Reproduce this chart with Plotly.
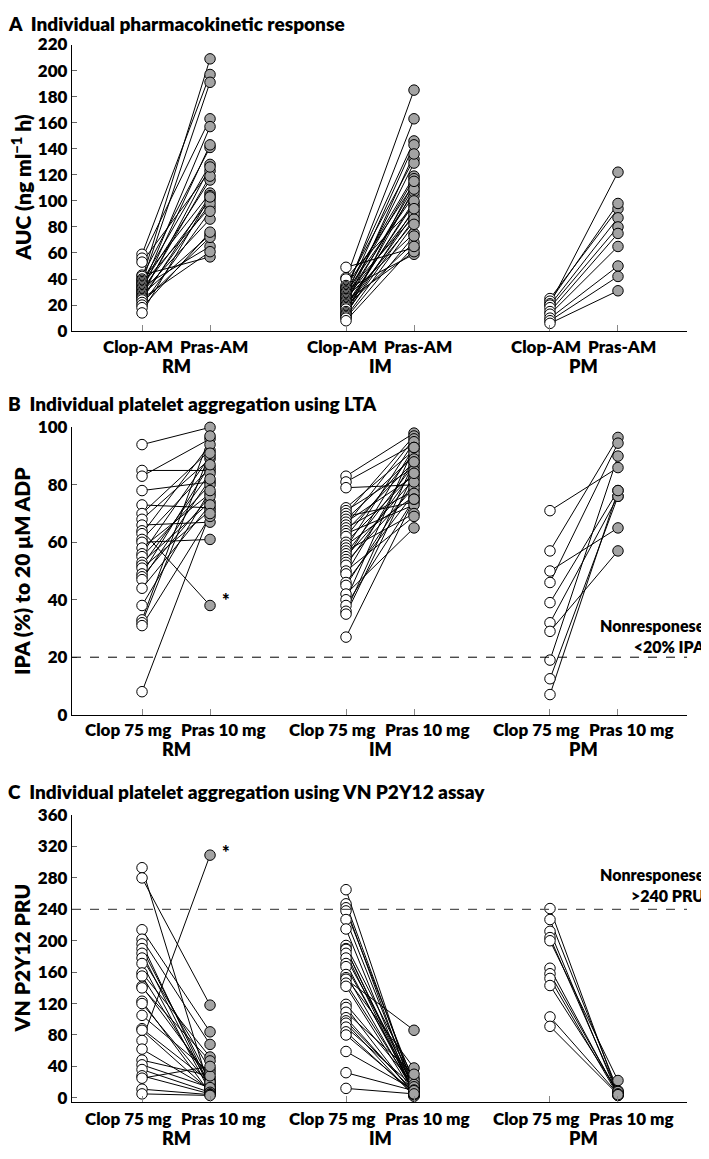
import plotly.graph_objects as go

# Page has an 8px body margin; the figure is sized so the page fits the 709x1159 window.
WIN_W, WIN_H, OFF = 709, 1159, 8
W, H = WIN_W - OFF, WIN_H - 2 * OFF

groups = ["RM", "IM", "PM"]
group_pos = [0, 3, 6]
A_ticks = ["Clop-AM", "Pras-AM"]
BC_ticks = ["Clop 75 mg", "Pras 10 mg"]

# ---------------- Panel A: AUC (ng ml-1 h) ----------------
A_RM_clop = [59, 56, 53, 43, 42, 40, 39, 38, 37, 36, 35, 34, 33, 32, 31, 30, 29, 28, 27, 26, 25, 24, 22, 20, 18, 14]
A_RM_pras = [197, 163, 123, 57, 141, 209, 106, 128, 191, 95, 116, 65, 157, 101, 143, 86, 119, 74, 126, 98, 61, 104, 72, 92, 76, 103]
A_IM_clop = [49, 41, 40, 35, 34, 33, 32, 31, 30, 30, 29, 28, 27, 26, 25, 25, 24, 23, 22, 21, 20, 20, 19, 18, 17, 15, 14, 13, 12, 11, 10, 8]
A_IM_pras = [64, 96, 185, 132, 113, 146, 59, 119, 104, 163, 88, 117, 143, 75, 107, 92, 129, 61, 111, 84, 98, 136, 68, 100, 90, 109, 86, 94, 115, 82, 73, 65]
A_PM_clop = [25, 23, 21, 20, 18, 15, 13, 10, 8, 6]
A_PM_pras = [94, 98, 122, 87, 80, 75, 65, 50, 42, 31]

# ---------------- Panel B: IPA (%) ----------------
B_RM_clop = [94, 85, 83, 78, 73, 70, 68, 66, 64, 63, 61, 60, 58, 56, 55, 53, 52, 51, 49, 48, 47, 44, 38, 33, 32, 31, 8]
B_RM_pras = [100, 85, 96, 81, 72, 92, 89, 67, 38, 94, 86, 61, 77, 90, 80, 74, 84, 71, 87, 76, 82, 73, 78, 97, 91, 69, 70]
B_IM_clop = [83, 81, 79, 72, 71, 70, 69, 68, 67, 66, 65, 64, 63, 62, 60, 59, 58, 57, 56, 55, 54, 53, 52, 50, 49, 46, 45, 42, 40, 38, 36, 35, 27]
B_IM_pras = [98, 94, 80, 92, 86, 97, 74, 90, 83, 96, 78, 88, 73, 91, 84, 76, 95, 70, 87, 82, 93, 79, 85, 69, 89, 77, 81, 65, 93, 75, 88, 84, 75]
B_PM_clop = [71, 57, 50, 46, 39, 32, 29, 19, 12.5, 7]
B_PM_pras = [86, 96.5, 65, 94.5, 78, 76, 57, 90, 76, 78]

# ---------------- Panel C: VN P2Y12 PRU ----------------
C_RM_clop = [293, 280, 214, 202, 196, 190, 184, 178, 171, 159, 155, 142, 140, 123, 120, 105, 88, 86, 73, 62, 48, 42, 36, 28, 25, 11, 5]
C_RM_pras = [10, 118, 84, 68, 14, 22, 12, 36, 8, 52, 18, 25, 47, 6, 16, 32, 20, 9, 309, 11, 28, 13, 7, 5, 40, 4, 3]
C_IM_clop = [265, 247, 242, 238, 227, 215, 194, 190, 189, 184, 178, 171, 167, 157, 153, 151, 146, 142, 119, 115, 109, 102, 98, 95, 90, 84, 80, 59, 32, 12]
C_IM_pras = [8, 13, 5, 19, 10, 3, 25, 6, 12, 4, 22, 9, 15, 7, 38, 86, 11, 5, 17, 3, 30, 6, 8, 2, 14, 4, 7, 10, 9, 5]
C_PM_clop = [241, 227, 212, 204, 200, 165, 158, 152, 143, 103, 91]
C_PM_pras = [5, 9, 3, 7, 22, 4, 6, 3, 8, 5, 4]

A_yticks = list(range(0, 221, 20))
B_yticks = list(range(0, 101, 20))
C_yticks = list(range(0, 361, 40))

FONT = "Lato"
WT = 800
GREY = "#a3a3a3"


def px(xp):
    return (xp - OFF) / W


def py(yp):
    return 1 - (yp - OFF) / H


panels = [
    dict(clop=[A_RM_clop, A_IM_clop, A_PM_clop], pras=[A_RM_pras, A_IM_pras, A_PM_pras],
         ticks=A_ticks, lab_off=0.06, yticks=A_yticks, yrange=[0, 220], top=34, bottom=326,
         lab_y=342, grp_y=361,
         title="A  Individual pharmacokinetic response", title_y=13,
         ytitle="AUC (ng ml<sup>\u22121</sup> h)"),
    dict(clop=[B_RM_clop, B_IM_clop, B_PM_clop], pras=[B_RM_pras, B_IM_pras, B_PM_pras],
         ticks=BC_ticks, lab_off=0.2, yticks=B_yticks, yrange=[0, 100], top=424, bottom=716.7,
         lab_y=732, grp_y=752,
         title="B  Individual platelet aggregation using LTA", title_y=400,
         ytitle="IPA (%) to 20 \u03bcM ADP"),
    dict(clop=[C_RM_clop, C_IM_clop, C_PM_clop], pras=[C_RM_pras, C_IM_pras, C_PM_pras],
         ticks=BC_ticks, lab_off=0.2, yticks=C_yticks, yrange=[-5, 360], top=819, bottom=1111,
         lab_y=1128, grp_y=1148,
         title="C  Individual platelet aggregation using VN P2Y12 assay", title_y=795,
         ytitle="VN P2Y12 PRU"),
]

x_left, x_right = 72, 687
x_range = [-1.03, 8.015]

fig = go.Figure()
layout = dict(width=W, height=H, margin=dict(l=0, r=0, t=0, b=0),
              plot_bgcolor="white", paper_bgcolor="white", showlegend=False,
              font=dict(family=FONT, color="black"))
annotations = []
shapes = []

for i, p in enumerate(panels):
    n = "" if i == 0 else str(i + 1)
    xa, ya = "x" + n, "y" + n
    lx, ly, wx, wy, gx, gy = [], [], [], [], [], []
    tickvals = []
    for g, gp in enumerate(group_pos):
        for c, q in zip(p["clop"][g], p["pras"][g]):
            lx += [gp, gp + 1, None]
            ly += [c, q, None]
        wx += [gp] * len(p["clop"][g])
        wy += p["clop"][g]
        gx += [gp + 1] * len(p["pras"][g])
        gy += p["pras"][g]
        tickvals += [gp, gp + 1]
        for k, (lab, sgn) in enumerate(zip(p["ticks"], [-1, 1])):
            annotations.append(dict(text=lab, xref=xa, yref="paper", x=gp + k + sgn * p["lab_off"],
                                    y=py(p["lab_y"]), xanchor="center", yanchor="middle",
                                    showarrow=False, font=dict(family=FONT, size=17, weight=WT)))
        annotations.append(dict(text=groups[g], xref=xa, yref="paper", x=gp + 0.5,
                                y=py(p["grp_y"]), xanchor="center", yanchor="middle",
                                showarrow=False, font=dict(family=FONT, size=18, weight=WT)))
    fig.add_trace(go.Scatter(x=lx, y=ly, mode="lines", line=dict(color="black", width=1),
                             xaxis=xa, yaxis=ya, hoverinfo="skip", cliponaxis=False))
    fig.add_trace(go.Scatter(x=wx, y=wy, mode="markers", xaxis=xa, yaxis=ya, cliponaxis=False,
                             marker=dict(size=10.5, color="white", line=dict(color="black", width=1))))
    fig.add_trace(go.Scatter(x=gx, y=gy, mode="markers", xaxis=xa, yaxis=ya, cliponaxis=False,
                             marker=dict(size=10.5, color=GREY, line=dict(color="black", width=1))))

    layout["xaxis" + n] = dict(domain=[px(x_left), px(x_right)], range=x_range, anchor=ya,
                               showline=True, linecolor="black", linewidth=1.3, showgrid=False,
                               zeroline=False, ticks="inside", ticklen=6, tickcolor="#888",
                               tickvals=tickvals, showticklabels=False)
    layout["yaxis" + n] = dict(domain=[py(p["bottom"]), py(p["top"])], range=p["yrange"], anchor=xa,
                               showline=True, linecolor="black", linewidth=1.3, showgrid=False,
                               zeroline=False, ticks="inside", ticklen=5, tickcolor="#666",
                               tickvals=p["yticks"],
                               tickfont=dict(family=FONT, size=17, weight=WT, color="black"))
    annotations.append(dict(text=p["title"], xref="paper", yref="paper", x=px(6), y=py(p["title_y"]),
                            xanchor="left", yanchor="middle", showarrow=False,
                            font=dict(family=FONT, size=19, weight=WT)))
    annotations.append(dict(text=p["ytitle"], xref="paper", yref="paper", x=px(21),
                            y=py((p["top"] + p["bottom"]) / 2), textangle=-90,
                            xanchor="center", yanchor="middle", showarrow=False,
                            font=dict(family=FONT, size=21, weight=WT)))

# thresholds
shapes.append(dict(type="line", xref="x2 domain", yref="y2", x0=0, x1=1, y0=20, y1=20,
                   line=dict(color="black", width=1, dash="dash")))
shapes.append(dict(type="line", xref="x3 domain", yref="y3", x0=0, x1=1, y0=240, y1=240,
                   line=dict(color="#555", width=1.3, dash="dash")))
annotations.append(dict(text="Nonresponese<br>&lt;20% IPA", xref="paper", yref="paper",
                        x=px(707), y=py(637), xanchor="right", yanchor="middle", align="right",
                        showarrow=False, font=dict(family=FONT, size=16, weight=WT)))
annotations.append(dict(text="Nonresponese<br>&gt;240 PRU", xref="paper", yref="paper",
                        x=px(707), y=py(890), xanchor="right", yanchor="middle", align="right",
                        showarrow=False, font=dict(family=FONT, size=16, weight=WT)))
# asterisks
annotations.append(dict(text="*", xref="x2", yref="y2", x=1.15, y=40, xanchor="left",
                        showarrow=False, font=dict(family=FONT, size=18, weight=WT)))
annotations.append(dict(text="*", xref="x3", yref="y3", x=1.15, y=313, xanchor="left",
                        showarrow=False, font=dict(family=FONT, size=18, weight=WT)))

layout["annotations"] = annotations
layout["shapes"] = shapes
fig.update_layout(**layout)
fig.write_html("out.html")
